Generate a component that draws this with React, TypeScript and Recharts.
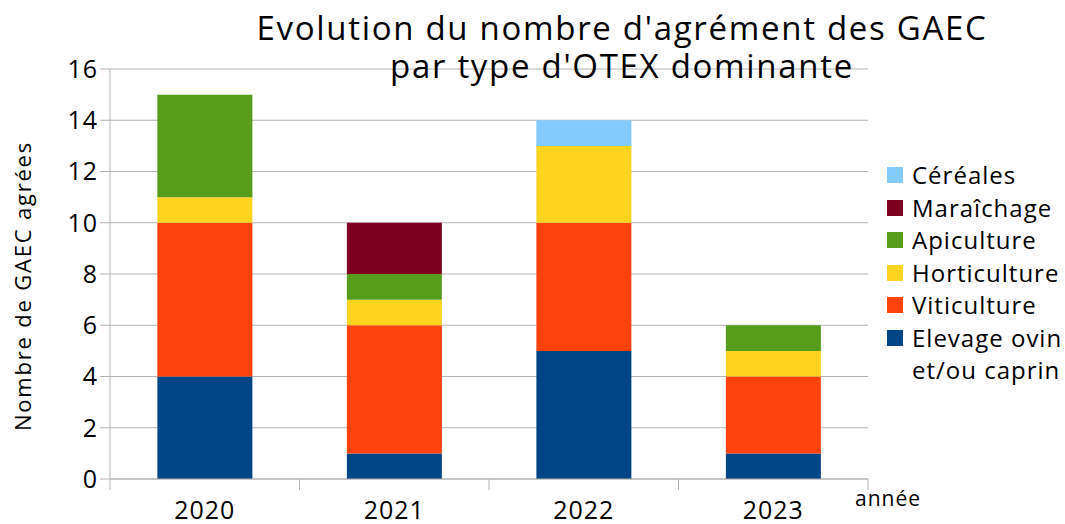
import React from 'react'
import { BarChart, Bar, XAxis, YAxis, CartesianGrid } from 'recharts'

const years = ['2020', '2021', '2022', '2023']
const elevage = [4, 1, 5, 1]
const viticulture = [6, 5, 5, 3]
const horticulture = [1, 1, 3, 1]
const apiculture = [4, 1, 0, 1]
const maraichage = [0, 2, 0, 0]
const cereales = [0, 0, 1, 0]
const yTicks = [0, 2, 4, 6, 8, 10, 12, 14, 16]

const series = [
  { key: 'elevage', name: 'Elevage ovin et/ou caprin', color: '#004586', values: elevage },
  { key: 'viticulture', name: 'Viticulture', color: '#ff420e', values: viticulture },
  { key: 'horticulture', name: 'Horticulture', color: '#ffd320', values: horticulture },
  { key: 'apiculture', name: 'Apiculture', color: '#579d1c', values: apiculture },
  { key: 'maraichage', name: 'Maraîchage', color: '#7e0021', values: maraichage },
  { key: 'cereales', name: 'Céréales', color: '#83caff', values: cereales },
]

const data = years.map((year, i) => {
  const row: Record<string, string | number> = { year }
  series.forEach(s => { row[s.key] = s.values[i] })
  return row
})

const FONT = '"Open Sans", "Noto Sans", sans-serif'
const GRID = '#b3b3b3'

function YearTick(props: any) {
  const { x, y, payload, index, visibleTicksCount } = props
  const half = 189.5 / 2
  return (
    <g>
      <line x1={x - half} x2={x - half} y1={y - 8} y2={y + 3} stroke={GRID} />
      {index === visibleTicksCount - 1 && (
        <line x1={x + half} x2={x + half} y1={y - 8} y2={y + 3} stroke={GRID} />
      )}
      <text x={x} y={y + 32} textAnchor="middle" fontSize={25} letterSpacing={1} fill="#000" fontFamily={FONT}>
        {payload.value}
      </text>
    </g>
  )
}

function LegendBox() {
  const items = [...series].reverse()
  return (
    <div style={{ fontFamily: FONT, fontSize: 24, letterSpacing: 1, color: '#000', lineHeight: '32.5px' }}>
      {items.map(s => {
        const parts = s.key === 'elevage' ? ['Elevage ovin', 'et/ou caprin'] : [s.name]
        return (
          <div key={s.key} style={{ display: 'flex', alignItems: 'flex-start' }}>
            <div style={{ width: 16, height: 16, background: s.color, marginTop: 8, marginRight: 9 }} />
            <div>{parts.map(p => <div key={p}>{p}</div>)}</div>
          </div>
        )
      })}
    </div>
  )
}

export default function App() {
  return (
    <div style={{ position: 'absolute', left: 0, top: 0, width: 1065, height: 524, background: '#fff', fontFamily: FONT, overflow: 'hidden' }}>
      <BarChart
        width={1065}
        height={524}
        data={data}
        margin={{ top: 69, right: 197, bottom: 0, left: 0 }}
        barCategoryGap="25%"
        style={{ position: 'absolute', left: 0, top: 0 }}
      >
        <CartesianGrid vertical={false} stroke={GRID} />
        <XAxis
          dataKey="year"
          height={45}
          axisLine={{ stroke: GRID }}
          tickLine={false}
          tick={<YearTick />}
          interval={0}
        />
        <YAxis
          width={110}
          domain={[0, 16]}
          ticks={yTicks}
          tickSize={10}
          axisLine={{ stroke: GRID }}
          tickLine={{ stroke: GRID }}
          tick={{ fontSize: 25, fill: '#000', fontFamily: FONT, letterSpacing: 1 }}
          label={{ value: 'Nombre de GAEC agrées', angle: -90, position: 'insideLeft', dx: 18, dy: 12, fontSize: 22, fill: '#000', fontFamily: FONT, style: { textAnchor: 'middle', letterSpacing: 1.8 } }}
        />
        <YAxis yAxisId="border" orientation="right" width={0} tick={false} axisLine={{ stroke: GRID }} tickLine={false} />
        {series.map(s => (
          <Bar key={s.key} dataKey={s.key} name={s.name} stackId="a" fill={s.color} isAnimationActive={false} />
        ))}
      </BarChart>
      <div style={{ position: 'absolute', left: 222, width: 800, top: 9, textAlign: 'center', fontSize: 33, letterSpacing: 1.7, lineHeight: '38px', color: '#000' }}>
        Evolution du nombre d'agrément des GAEC<br />par type d'OTEX dominante
      </div>
      <div style={{ position: 'absolute', left: 855, top: 484, fontSize: 21, letterSpacing: 1, color: '#000' }}>année</div>
      <div style={{ position: 'absolute', left: 887, top: 159 }}>
        <LegendBox />
      </div>
    </div>
  )
}
